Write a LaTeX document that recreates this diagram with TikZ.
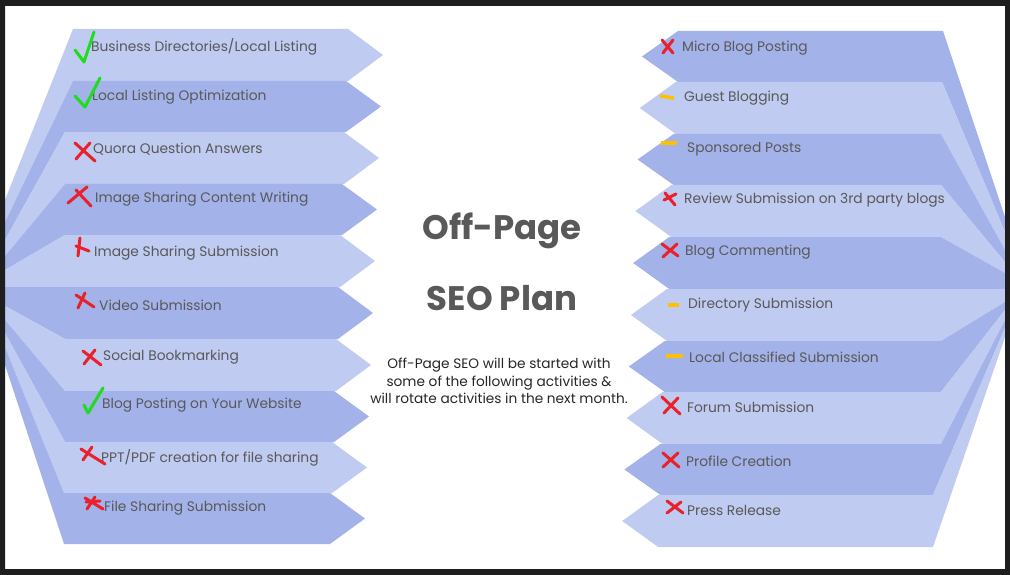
\documentclass[tikz,border=0pt]{standalone}
\usepackage{fontspec}
\setmainfont{Poppins}

\definecolor{bandlight}{HTML}{BFCBF0}
\definecolor{banddark}{HTML}{A3B2E8}
\definecolor{textgray}{HTML}{595959}
\definecolor{markred}{HTML}{E8212B}
\definecolor{markgreen}{HTML}{1FDC1F}
\definecolor{markyellow}{HTML}{FFC000}
\definecolor{framedark}{HTML}{1E1E1E}

\begin{document}
\begin{tikzpicture}[
    x = 1pt, y = -1pt,
    every node/.style = {inner sep=0pt, text=textgray},
    item/.style = {anchor=west, font=\fontsize{13.8}{16}\selectfont},
    heading/.style = {font=\fontsize{34}{40}\selectfont\bfseries},
    note/.style = {align=center, text=black!85, font=\fontsize{13.7}{17.5}\selectfont},
    cross/.style = {draw=markred, line width=3pt, line cap=round},
    tick/.style = {draw=markgreen, line width=3pt, line cap=round, line join=round},
    pending/.style = {draw=markyellow, line width=3.5pt}
]

% left fan: side face + chevron front, one band per row
\foreach \i/\ya/\yb/\xa/\xb/\za/\zb/\col in {
    1/29/81/73/73/200/222/bandlight, 2/81/132/73/65/222/240/banddark,
    3/132/184/65/65/240/256/bandlight, 4/184/235/65/65/256/270/banddark,
    5/235/287/65/65/270/287/bandlight, 6/287/339/65/65/287/306/banddark,
    7/339/391/65/65/306/320/bandlight, 8/391/442/65/65/320/333/banddark,
    9/442/493/65/64/333/347/bandlight, 10/493/544/64/64/347/365/banddark} {
  \pgfmathsetmacro\xr{348-2*(\i-1)}
  \pgfmathsetmacro\ym{(\ya+\yb)/2}
  \fill[\col] (5,\za) -- (\xa,\ya) -- (\xr,\ya) -- (\xr+35,\ym)
    -- (\xr,\yb) -- (\xb,\yb) -- (5,\zb) -- cycle;
}

% right fan
\foreach \i/\ya/\yb/\xa/\xb/\za/\zb/\col in {
    1/31/82/943/942/217/232/banddark, 2/82/134/942/941/232/250/bandlight,
    3/134/185/941/941/250/262/banddark, 4/185/237/941/941/262/273/bandlight,
    5/237/289/941/941/273/289/banddark, 6/289/341/941/941/289/302/bandlight,
    7/341/392/941/941/302/310/banddark, 8/392/444/941/941/310/320/bandlight,
    9/444/495/941/933/320/328/banddark, 10/495/547/933/933/328/337/bandlight} {
  \pgfmathsetmacro\xl{678-2.2*(\i-1)}
  \pgfmathsetmacro\ym{(\ya+\yb)/2}
  \fill[\col] (1005,\za) -- (\xa,\ya) -- (\xl,\ya) -- (\xl-36,\ym)
    -- (\xl,\yb) -- (\xb,\yb) -- (1005,\zb) -- cycle;
}

% left items
\node[item] (l1) at (91,47) {Business Directories/Local Listing};
\node[item] (l2) at (92,97) {Local Listing Optimization};
\node[item] (l3) at (93,149) {Quora Question Answers};
\node[item] (l4) at (95,199) {Image Sharing Content Writing};
\node[item] (l5) at (94,253) {Image Sharing Submission};
\node[item] (l6) at (99,305) {Video Submission};
\node[item] (l7) at (103,357) {Social Bookmarking};
\node[item] (l8) at (102,405) {Blog Posting on Your Website};
\node[item] (l9) at (101,458) {PPT/PDF creation for file sharing};
\node[item] (l10) at (104,508) {File Sharing Submission};

% right items
\node[item] (r1) at (682,48) {Micro Blog Posting};
\node[item] (r2) at (684,98) {Guest Blogging};
\node[item] (r3) at (687,149) {Sponsored Posts};
\node[item] (r4) at (684,200) {Review Submission on 3rd party blogs};
\node[item] (r5) at (685,252) {Blog Commenting};
\node[item] (r6) at (688,305) {Directory Submission};
\node[item] (r7) at (689,357) {Local Classified Submission};
\node[item] (r8) at (687,407) {Forum Submission};
\node[item] (r9) at (686,461) {Profile Creation};
\node[item] (r10) at (687,510) {Press Release};

% marks
\draw[tick] (75,50) -- (84,62) -- (94,32);
\draw[tick] (75,96) -- (85,107) -- (100,78);
\draw[cross] (75,143) -- (95,161) (90,143) -- (76,159);
\draw[cross] (68,203) -- (87,187) (76,190) -- (91,206);
\draw[cross] (80,238) -- (78,256) (76,246) -- (89,251);
\draw[cross] (76,295) -- (94,307) (85,293) -- (78,308);
\draw[cross] (83,351) -- (101,365) (95,350) -- (84,364);
\draw[tick] (84,405) -- (88,413) -- (103,388);
\draw[cross] (81,449) -- (105,464) (92,447) -- (83,460);
\draw[cross] (85,498) -- (103,509) (95,497) -- (87,509) (86,502) -- (100,501);

\draw[cross] (662,40) -- (673,53) (673,40) -- (663,53);
\draw[pending] (660,96) -- (674,98);
\draw[pending] (661,143) -- (677,143);
\draw[cross] (665,193) -- (675,205) (676,194) -- (664,200);
\draw[cross] (662,244) -- (678,256) (677,244) -- (663,257);
\draw[pending] (668,305) -- (679,305);
\draw[pending] (666,356) -- (683,356);
\draw[cross] (662,397) -- (680,414) (678,398) -- (664,413);
\draw[cross] (663,453) -- (679,467) (678,453) -- (663,467);
\draw[cross] (667,501) -- (683,513) (681,502) -- (667,513);

% centre text
\node[heading] (title1) at (502,231) {Off-Page};
\node[heading] (title2) at (502,298) {SEO Plan};
\node[note] (intro) at (499,381) {Off-Page SEO will be started with\\
  some of the following activities \&\\ will rotate activities in the next month.};

% frame
\fill[framedark, even odd rule] (0,0) rectangle (1010,575) (5,6) rectangle (1005,569);

\end{tikzpicture}
\end{document}
